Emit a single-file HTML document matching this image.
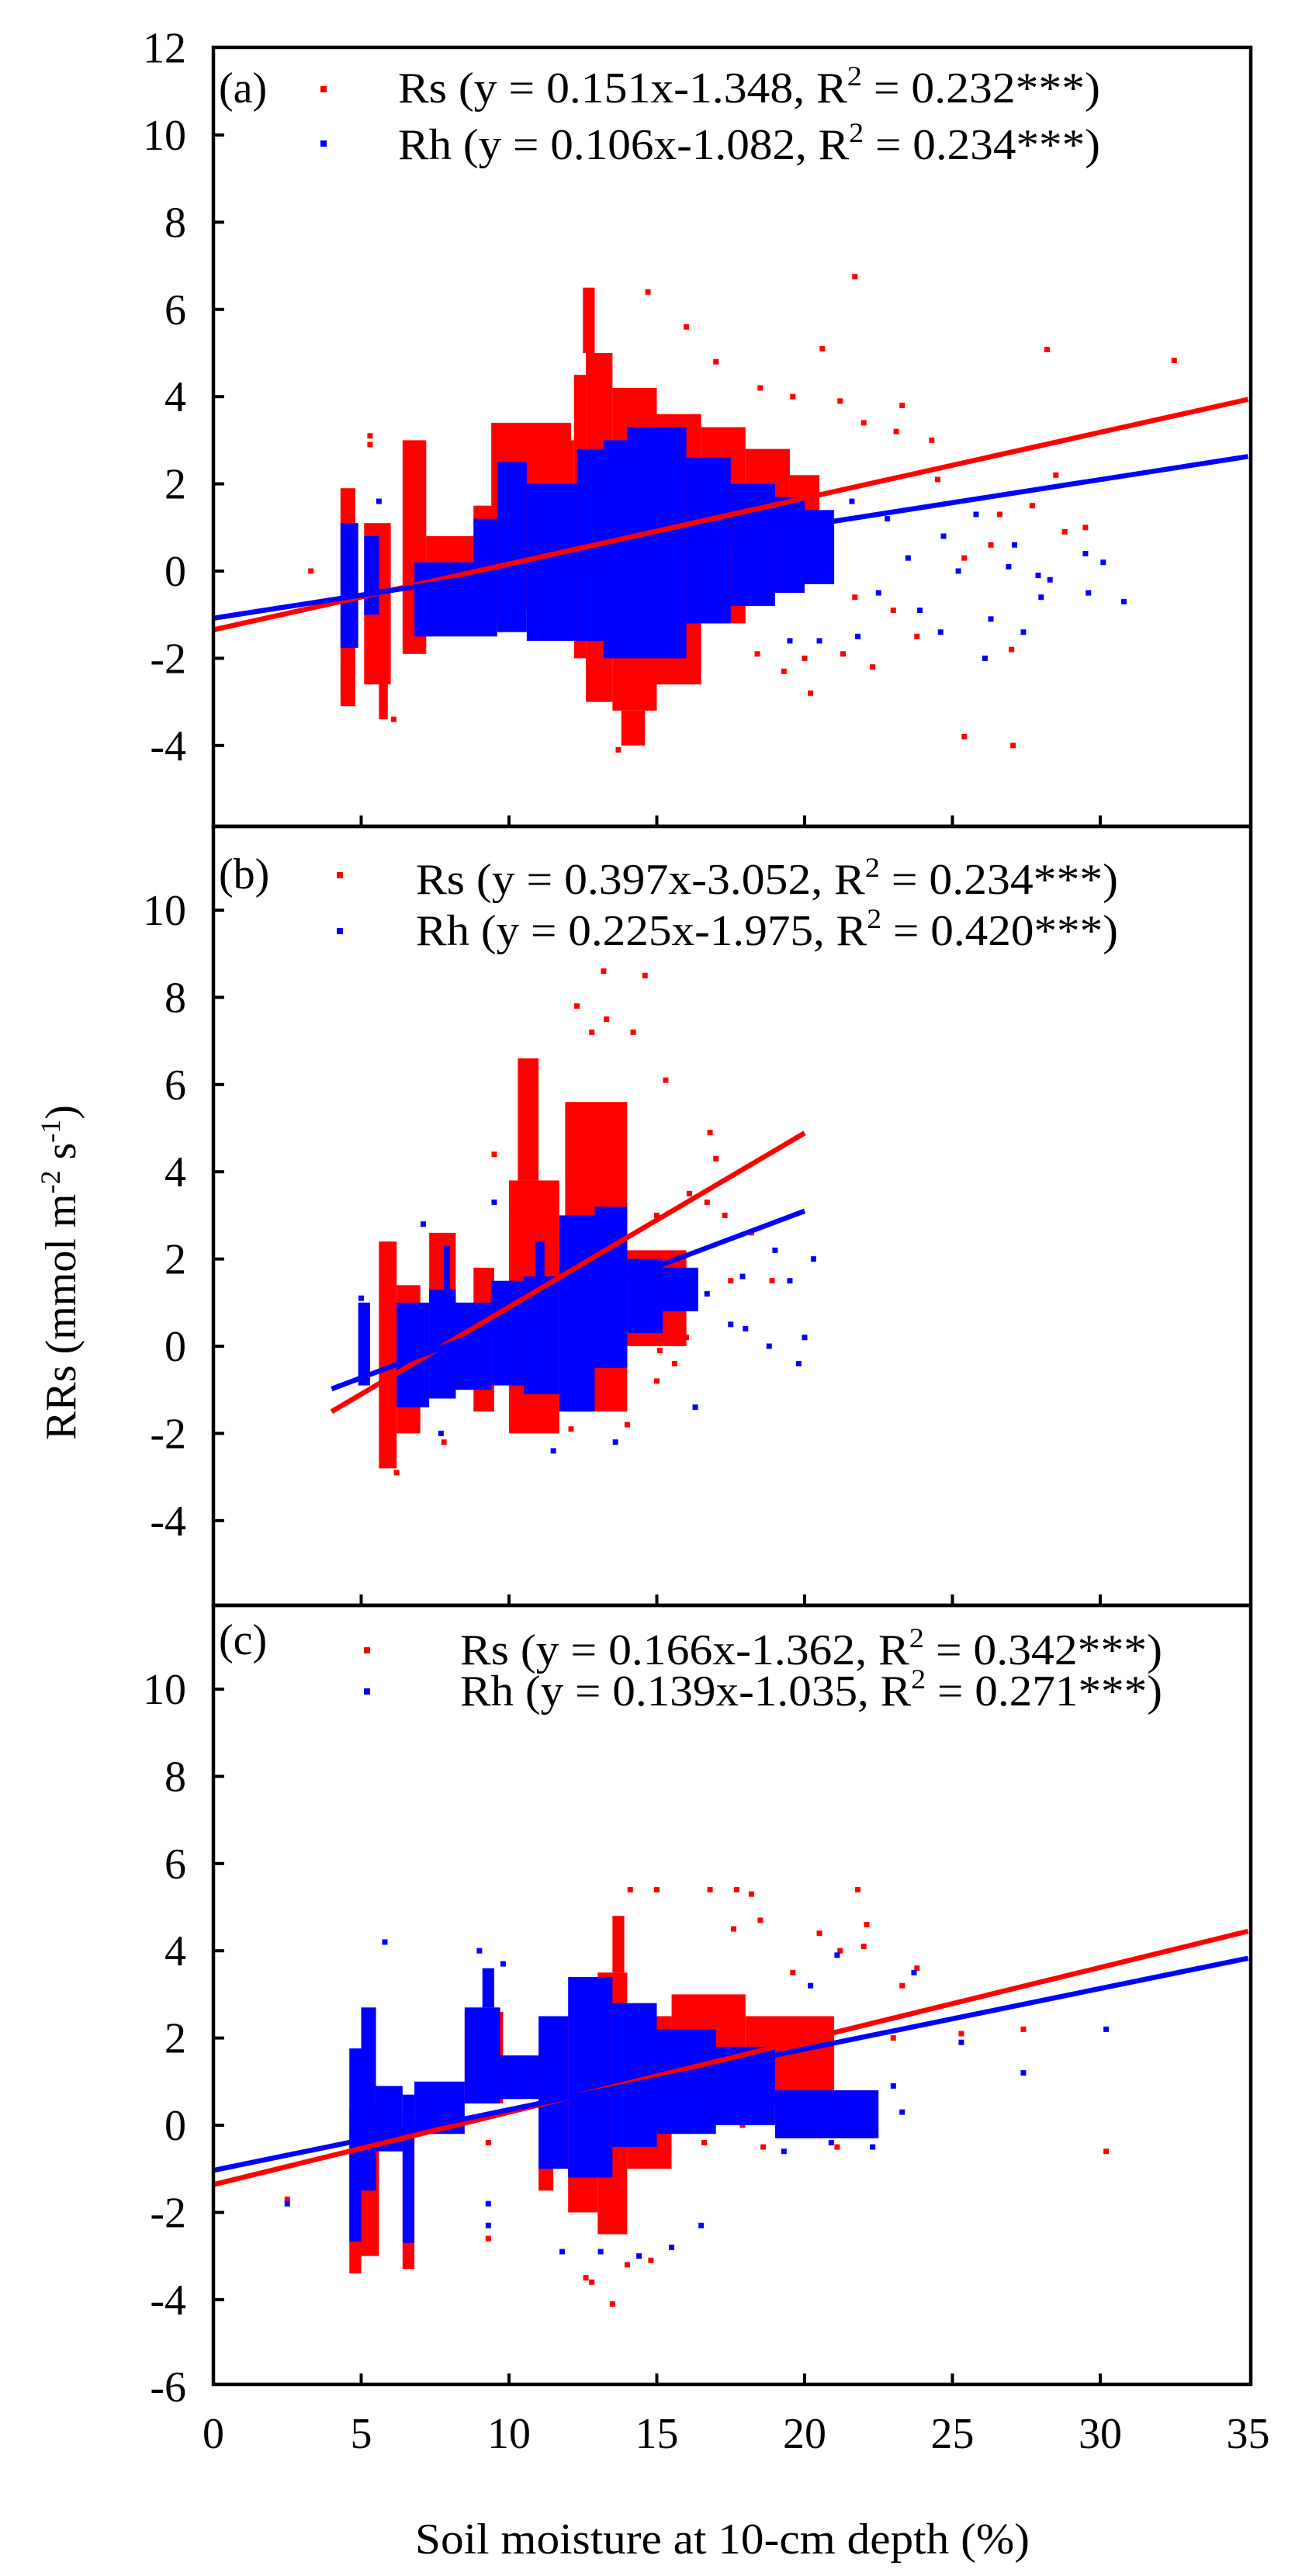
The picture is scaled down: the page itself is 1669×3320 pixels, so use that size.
<!DOCTYPE html>
<html><head><meta charset="utf-8"><title>RRs vs soil moisture</title>
<style>html,body{margin:0;padding:0;background:#fff}svg{display:block}text{font-family:"Liberation Serif",serif;fill:#000}</style></head>
<body>
<svg id="chart" xmlns="http://www.w3.org/2000/svg" width="1669" height="3320" viewBox="0 0 1669 3320">
<g id="plots"></g>
<text x="535" y="3291" font-size="56" textLength="792" lengthAdjust="spacingAndGlyphs">Soil moisture at 10-cm depth (%)</text>
<text transform="translate(97,1640) rotate(-90)" text-anchor="middle" font-size="56">RRs (mmol m<tspan font-size="36" dy="-20">-2</tspan><tspan dy="20"> s</tspan><tspan font-size="36" dy="-20">-1</tspan><tspan dy="20">)</tspan></text>
</svg>
<script>
// ---- data ----
const xTicks = [0,5,10,15,20,25,30,35];
const panelNames = ["a","b","c"];
const yTicksA = [12,10,8,6,4,2,0,-2,-4];
const yTicksB = [10,8,6,4,2,0,-2,-4];
const yTicksC = [10,8,6,4,2,0,-2,-4,-6];
const legendRs = ["Rs (y = 0.151x-1.348, R|2| = 0.232***)","Rs (y = 0.397x-3.052, R|2| = 0.234***)","Rs (y = 0.166x-1.362, R|2| = 0.342***)"];
const legendRh = ["Rh (y = 0.106x-1.082, R|2| = 0.234***)","Rh (y = 0.225x-1.975, R|2| = 0.420***)","Rh (y = 0.139x-1.035, R|2| = 0.271***)"];
// regression line endpoints [x0,y0,x1,y1]
const lineRs = [[0,-1.348,35,3.937],[4,-1.5,20,4.89],[0,-1.362,35,4.448]];
const lineRh = [[0,-1.082,35,2.628],[4,-0.98,20,3.1],[0,-1.035,35,3.83]];
// dense clouds: [x0,x1,ymin,ymax]
const rsBandsA = [[4.3,4.8,-3.1,1.9],[5.1,6.0,-2.6,1.1],[5.6,5.9,-3.4,-2.4],[6.4,7.2,-1.9,3.0],[7.2,8.8,-0.5,0.8],[8.8,10.5,-1.2,1.5],[9.4,12.1,0.6,3.4],[10.5,12.2,-0.9,3.0],[12.2,12.6,-2.0,4.5],[12.6,13.5,-3.0,5.0],[12.5,12.9,5.0,6.5],[13.5,15,-3.2,4.2],[13.8,14.6,-4.0,-3.2],[15,16.5,-2.6,3.6],[16.5,18,-1.2,3.3],[18,19.5,-0.5,2.8],[19.5,20.5,-0.2,2.2]];
const rhBandsA = [[4.3,4.9,-1.76,1.1],[5.1,5.6,-1.0,0.8],[6.8,9.6,-1.5,0.2],[8.8,9.6,0.2,1.2],[9.6,10.6,-1.4,2.5],[10.6,12.3,-1.6,2.0],[12.3,13.2,-1.6,2.8],[13.2,14,-2.0,3.0],[14,16,-2.0,3.3],[16,17.5,-1.2,2.6],[17.5,19,-0.8,2.0],[19,20,-0.5,1.7],[20,21,-0.3,1.4]];
const rsBandsB = [[5.6,6.2,-2.8,2.4],[6.2,7.0,-2.0,1.4],[7.3,8.2,-1.2,2.6],[8.8,9.5,-1.5,1.8],[10.0,11.7,-2.0,3.8],[10.3,11.0,3.8,6.6],[11.9,14.0,-1.5,5.6],[14.0,16.0,0.0,2.2]];
const rhBandsB = [[4.9,5.3,-0.9,1.0],[6.2,7.3,-1.4,1.0],[7.3,8.2,-1.2,1.3],[7.8,8.0,1.3,2.3],[8.2,9.4,-1.0,1.0],[9.4,10.5,-0.9,1.5],[10.5,11.7,-1.1,1.6],[10.9,11.2,1.6,2.4],[11.7,12.9,-1.5,3.0],[12.9,14.0,-0.5,3.2],[14.0,15.2,0.3,2.0],[15.2,16.4,0.8,1.8]];
const rsBandsC = [[4.6,5.0,-3.4,0.4],[5.0,5.6,-3.0,0.5],[6.4,6.8,-3.3,0.3],[8.5,9.8,0.5,2.6],[11.0,11.5,-1.5,1.8],[12.0,13.0,-2.0,2.5],[13.0,14.0,-2.5,3.5],[13.5,13.9,3.5,4.8],[14.0,15.5,-1.0,2.5],[15.5,18.0,0.0,3.0],[18.0,21.0,0.5,2.5]];
const rhBandsC = [[4.6,5.0,-2.67,1.76],[5.0,5.5,-1.5,2.7],[5.5,6.4,-0.6,0.9],[6.4,6.8,-2.7,0.7],[6.8,8.5,-0.2,1.0],[8.5,9.7,0.5,2.7],[9.1,9.5,2.7,3.6],[9.7,11.0,0.6,1.6],[11.0,12.0,-1.0,2.5],[12.0,13.5,-1.2,3.4],[13.5,15.0,-0.5,2.8],[15.0,17.0,-0.2,2.2],[17.0,19.0,0.0,1.8],[19.0,22.5,-0.3,0.8]];
// sparse points [x,y]
const rsPtsA = [[3.3,0.0],[21.7,6.75],[32.5,4.83],[28.2,5.08],[25.4,-3.8],[27.05,-4.0],[23.3,3.8],[22,3.4],[24.5,2.1],[26.6,1.3],[27.7,1.5],[28.8,0.9],[23.8,-1.5],[22.3,-2.2],[21.3,-1.9],[25.4,0.3],[27.0,-1.8],[20.2,-2.8],[13.7,-4.1],[14.7,6.4],[16.0,5.6],[17.0,4.8],[18.5,4.2],[19.6,4.0],[20.6,5.1],[21.2,3.9],[23.1,3.2],[24.3,3.0],[20.0,-2.0],[18.4,-1.9],[19.3,-2.3],[23.0,-0.9],[21.7,-0.6],[26.3,0.6],[29.5,1.0],[28.5,2.2],[6.1,-3.4],[5.3,3.1],[5.3,2.9],[7.1,-1.5]];
const rhPtsA = [[30.1,0.2],[30.8,-0.7],[29.6,-0.5],[27.1,0.6],[28.0,-0.6],[26.3,-1.1],[27.4,-1.4],[24.7,0.8],[25.2,0.0],[23.9,-0.9],[22.5,-0.5],[22.8,1.2],[24.6,-1.4],[21.6,1.6],[25.8,1.3],[26.9,0.1],[23.5,0.3],[27.9,-0.1],[29.5,0.4],[20.5,-1.6],[19.5,-1.6],[21.8,-1.5],[28.3,-0.2],[26.1,-2.0],[5.6,1.6],[7.6,0.1]];
const rsPtsB = [[13.2,8.6],[14.6,8.5],[12.3,7.8],[12.8,7.2],[14.2,7.2],[13.3,7.5],[15.3,6.1],[16.1,3.5],[17.0,4.3],[16.8,4.9],[17.3,3.0],[18.2,2.6],[17.5,1.5],[18.9,1.5],[16.0,0.2],[15.1,-0.1],[15.6,-0.4],[15.0,-0.8],[9.5,4.4],[11.5,2.6],[7.8,-2.2],[6.2,-2.9],[12.1,-1.9],[11.4,-1.8],[14.0,-1.8],[16.7,3.3],[15.0,3.0]];
const rhPtsB = [[5.0,1.1],[7.1,2.8],[9.5,3.3],[12.4,0.0],[11.5,-2.4],[13.6,-2.2],[16.3,-1.4],[18.0,0.4],[17.5,0.5],[16.7,1.2],[17.9,1.6],[19.0,2.2],[19.5,1.5],[20.3,2.0],[20.0,0.2],[18.8,0.0],[19.8,-0.4],[7.7,-2.0]];
const rsPtsC = [[2.5,-1.7],[30.2,-0.6],[27.4,2.2],[25.3,2.1],[23.8,3.6],[23.3,3.2],[21.8,5.4],[22.1,4.6],[22.0,4.1],[21.2,4.0],[20.5,4.4],[17.7,5.4],[18.2,5.3],[16.8,5.4],[15.0,5.4],[14.1,5.4],[17.6,4.5],[18.5,4.7],[19.6,3.5],[17.9,0.0],[18.6,-0.5],[21.1,-0.5],[16.6,-0.4],[13.5,-4.1],[14.8,-3.1],[14.0,-3.2],[12.8,-3.6],[9.3,-2.6],[9.3,-0.4],[12.6,-3.5],[23.0,2.0]];
const rhPtsC = [[5.8,4.2],[2.5,-1.8],[30.2,2.2],[27.4,1.2],[25.3,1.9],[23.7,3.5],[21.1,3.9],[20.2,3.2],[23.0,0.9],[23.3,0.3],[22.3,-0.5],[20.9,-0.4],[19.3,-0.6],[9.8,3.7],[9.0,4.0],[15.5,-2.8],[16.5,-2.3],[14.4,-3.0],[13.1,-2.9],[11.8,-2.9],[9.3,-1.8],[9.3,-2.3]];

// ---- layout ----
const NS = "http://www.w3.org/2000/svg";
const L = 275, R = 1612, PXX = 38.1, PXY = 56.2;
const layout = [
 {top:61,bottom:1065,zero:736,yt:yTicksA,rsB:rsBandsA,rhB:rhBandsA,rsP:rsPtsA,rhP:rhPtsA,mk:417,my:[115,185],tx:513,tb:[132,205],lab:"(a)",ly:132},
 {top:1065,bottom:2069,zero:1735,yt:yTicksB,rsB:rsBandsB,rhB:rhBandsB,rsP:rsPtsB,rhP:rhPtsB,mk:438,my:[1128,1200],tx:536,tb:[1152,1218],lab:"(b)",ly:1145},
 {top:2069,bottom:3073,zero:2739,yt:yTicksC,rsB:rsBandsC,rhB:rhBandsC,rsP:rsPtsC,rhP:rhPtsC,mk:473,my:[2127,2180],tx:593,tb:[2145,2198],lab:"(c)",ly:2132}
];
const xs = v => L + v*PXX;
function mk(tag, attrs, parent){const e=document.createElementNS(NS,tag);for(const k in attrs)e.setAttribute(k,attrs[k]);parent.appendChild(e);return e;}
const root = document.getElementById("plots");
function legendText(str, x, y, parent, name){
  const parts = str.split("|");
  const t = mk("text",{x:x,y:y,"font-size":56,textLength:905,lengthAdjust:"spacingAndGlyphs"},parent);
  
  
  t.appendChild(document.createTextNode(parts[0]));
  const s = mk("tspan",{"font-size":36,dy:-22},t); s.textContent = parts[1];
  const r = mk("tspan",{dy:22},t); r.textContent = parts[2];
}
layout.forEach((p,i)=>{
  const g = mk("g",{},root);
  
  
  const ys = v => p.zero - v*PXY;
  const clip = mk("clipPath",{id:"clip"+i},g);
  mk("rect",{x:L,y:p.top,width:R-L,height:p.bottom-p.top},clip);
  const d = mk("g",{"clip-path":"url(#clip"+i+")"},g);
  const drawBands=(arr,col,nm)=>arr.forEach(b=>{
    const r=mk("rect",{x:xs(b[0]),y:ys(b[3]),width:xs(b[1])-xs(b[0]),height:ys(b[2])-ys(b[3]),fill:col},d);
    
    
  });
  const drawPts=(arr,col,nm)=>arr.forEach(q=>{
    const r=mk("rect",{x:xs(q[0])-3.5,y:ys(q[1])-3.5,width:7,height:7,fill:col},d);
    
    
  });
  drawBands(p.rsB,"#ff0000","rs-point-cloud");
  drawPts(p.rsP,"#ff0000","rs-point");
  drawBands(p.rhB,"#0000ff","rh-point-cloud");
  drawPts(p.rhP,"#0000ff","rh-point");
  const l1=lineRs[i], l2=lineRh[i];
  const a=mk("line",{x1:xs(l1[0]),y1:ys(l1[1]),x2:xs(l1[2]),y2:ys(l1[3]),stroke:"#ff0000","stroke-width":6.5},d);
  
  
  const b=mk("line",{x1:xs(l2[0]),y1:ys(l2[1]),x2:xs(l2[2]),y2:ys(l2[3]),stroke:"#0000ff","stroke-width":6.5},d);
  
  
  const f=mk("rect",{x:L,y:p.top,width:R-L,height:p.bottom-p.top,fill:"none",stroke:"#000","stroke-width":4.5},g);
  
  
  p.yt.forEach(v=>{
    const y=ys(v);
    if (y>p.top+5 && y<p.bottom-5) mk("line",{x1:L,x2:L+14,y1:y,y2:y,stroke:"#000","stroke-width":4},g);
    const t=mk("text",{x:240,y:y+19,"font-size":56,"text-anchor":"end"},g);
    
    
    t.textContent=v;
  });
  xTicks.forEach(v=>{
    if(v>0 && v<35) mk("line",{x1:xs(v),x2:xs(v),y1:p.bottom,y2:p.bottom-14,stroke:"#000","stroke-width":4},g);
    if(i===2){
      const t=mk("text",{x:xs(v),y:3155,"font-size":56,"text-anchor":"middle"},g);
      
      
      t.textContent=v;
    }
  });
  const pl=mk("text",{x:282,y:p.ly,"font-size":56},g);
  
  
  pl.textContent=p.lab;
  const m1=mk("rect",{x:p.mk-4,y:p.my[0]-4,width:8,height:8,fill:"#ff0000"},g);
  
  
  const m2=mk("rect",{x:p.mk-4,y:p.my[1]-4,width:8,height:8,fill:"#0000ff"},g);
  
  
  legendText(legendRs[i], p.tx, p.tb[0], g, "legend-entry-rs");
  legendText(legendRh[i], p.tx, p.tb[1], g, "legend-entry-rh");
});
</script>
</body></html>
